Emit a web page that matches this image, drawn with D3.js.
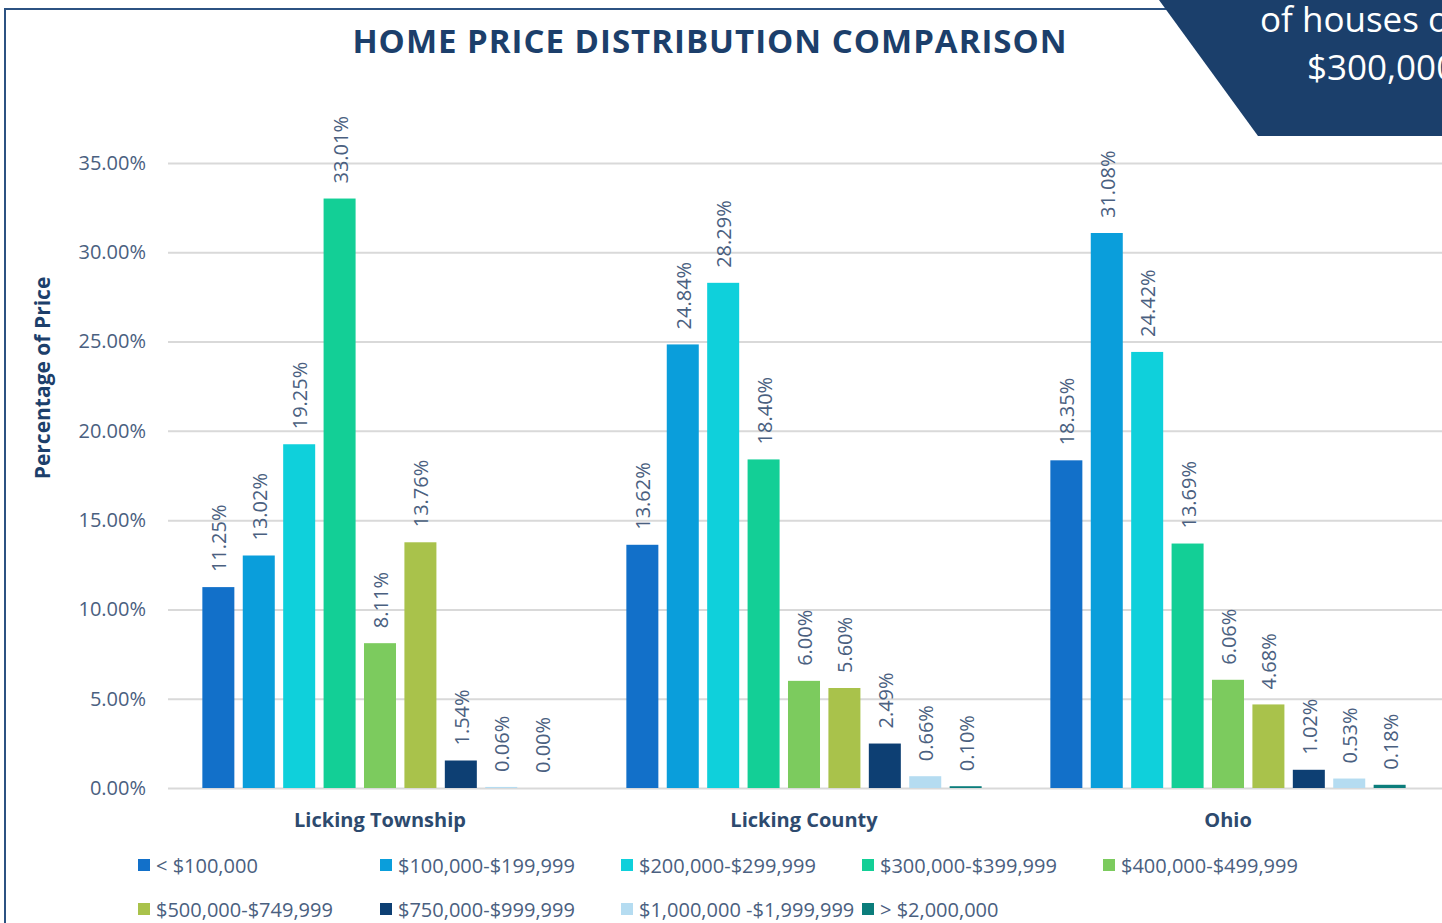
<!DOCTYPE html>
<html><head><meta charset="utf-8">
<script src="https://cdn.jsdelivr.net/npm/d3@7"></script>
<style>body{margin:0;background:#fff;overflow:hidden}svg{display:block}</style>
</head><body><svg id="c" width="1442" height="923"></svg>
<script>
const groups = ["Licking Township", "Licking County", "Ohio"];
const seriesNames = ["< $100,000", "$100,000-$199,999", "$200,000-$299,999", "$300,000-$399,999", "$400,000-$499,999", "$500,000-$749,999", "$750,000-$999,999", "$1,000,000 -$1,999,999", "> $2,000,000"];
const seriesColors = ["#1270c9", "#0a9edb", "#0fd0db", "#13cf96", "#7ccb5e", "#a9c24b", "#0d3f73", "#b5dcf1", "#0b7d7b"];
const lickingTownship = [11.25, 13.02, 19.25, 33.01, 8.11, 13.76, 1.54, 0.06, 0.00];
const lickingCounty = [13.62, 24.84, 28.29, 18.40, 6.00, 5.60, 2.49, 0.66, 0.10];
const ohio = [18.35, 31.08, 24.42, 13.69, 6.06, 4.68, 1.02, 0.53, 0.18];
const yTicks = [0, 5, 10, 15, 20, 25, 30, 35];
const title = "HOME PRICE DISTRIBUTION COMPARISON";
const yTitle = "Percentage of Price";
const bannerLines = ["of houses over", "$300,000"];

const values = [lickingTownship, lickingCounty, ohio];
const svg = d3.select("#c");
const navy = "#1c3f6b", slate = "#4a6080";

// frame
svg.append("path").attr("d", "M5,923 L5,9 L1170,9").attr("fill", "none").attr("stroke", "#2c5282").attr("stroke-width", 2);

// banner
svg.append("polygon").attr("points", "1159,0 1442,0 1442,136 1258,136").attr("fill", "#1b3f6b");
svg.append("text").attr("x", 1260).attr("y", 32).attr("fill", "#fff").attr("font-family", "Open Sans").attr("font-size", 35).text(bannerLines[0]);
svg.append("text").attr("x", 1307).attr("y", 80).attr("fill", "#fff").attr("font-family", "Open Sans").attr("font-size", 35).text(bannerLines[1]);

// title
svg.append("text").attr("x", 710).attr("y", 53).attr("text-anchor", "middle").attr("fill", navy)
  .attr("font-family", "Open Sans").attr("font-weight", "bold").attr("font-size", 33).attr("letter-spacing", 1).text(title);

const y = d3.scaleLinear().domain([0, 35]).range([788, 163]);
const x0 = d3.scaleBand().domain(groups).range([168, 1440]).padding(0);
const x1 = d3.scaleBand().domain(d3.range(seriesNames.length)).range([0, x0.bandwidth()]).paddingInner(0.208).paddingOuter(0.85);

// grid
const yAxis = d3.axisLeft(y).tickValues(yTicks).tickSize(-(1442 - 168)).tickFormat(d => d.toFixed(2) + "%").tickPadding(22);
const ga = svg.append("g").attr("transform", "translate(168,0)").call(yAxis);
ga.select(".domain").remove();
ga.selectAll(".tick line").attr("stroke", "#d9d9d9").attr("stroke-width", 2);
ga.selectAll(".tick text").attr("fill", slate).attr("font-family", "Open Sans").attr("font-size", 20);

// y title
svg.append("text").attr("transform", "translate(50,378) rotate(-90)").attr("text-anchor", "middle").attr("fill", navy)
  .attr("font-family", "Open Sans").attr("font-weight", "bold").attr("font-size", 21).text(yTitle);

// bars
groups.forEach((g, gi) => {
  const gg = svg.append("g").attr("transform", `translate(${x0(g)},0)`);
  values[gi].forEach((v, si) => {
    gg.append("rect").attr("x", x1(si)).attr("y", y(v)).attr("width", x1.bandwidth()).attr("height", y(0) - y(v)).attr("fill", seriesColors[si]);
    const cx = x1(si) + x1.bandwidth() / 2;
    gg.append("text").attr("transform", `translate(${cx + 8},${y(v) - 15}) rotate(-90)`).attr("fill", slate)
      .attr("font-family", "Open Sans").attr("font-size", 20).text(v.toFixed(2) + "%");
  });
  svg.append("text").attr("x", x0(g) + x0.bandwidth() / 2).attr("y", 827).attr("text-anchor", "middle").attr("fill", "#2d4a6e")
    .attr("font-family", "Open Sans").attr("font-weight", "bold").attr("font-size", 20).text(g);
});

// legend
const legX = [138, 380, 621, 862, 1103];
seriesNames.forEach((n, i) => {
  const row = Math.floor(i / 5), col = i % 5;
  const lx = legX[col], ly = 866 + row * 44;
  svg.append("rect").attr("x", lx).attr("y", ly - 7).attr("width", 12).attr("height", 12).attr("fill", seriesColors[i]);
  svg.append("text").attr("x", lx + 18).attr("y", ly + 7).attr("fill", slate).attr("font-family", "Open Sans").attr("font-size", 20).text(n);
});
</script></body></html>
